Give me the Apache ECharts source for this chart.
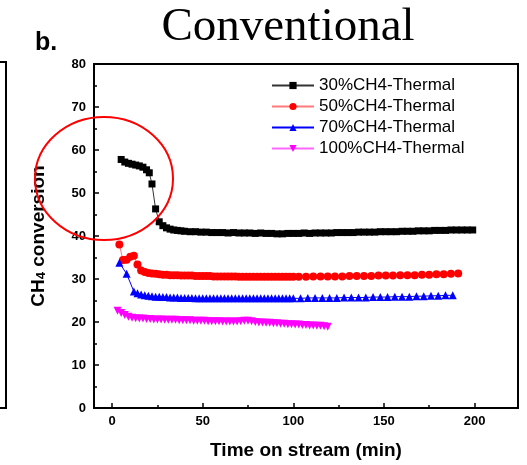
<!DOCTYPE html>
<html>
<head>
<meta charset="utf-8">
<script src="https://cdn.jsdelivr.net/npm/echarts@6/dist/echarts.min.js"></script>
<style>
html,body{margin:0;padding:0;background:#fff;}
#chart{width:527px;height:465px;}
</style>
</head>
<body>
<div id="chart"></div>
<script>
// ---- data ----
var seriesNames = ['30%CH4-Thermal', '50%CH4-Thermal', '70%CH4-Thermal', '100%CH4-Thermal'];

var ch4_30_x = [5,7,9,11,13,15,17,19,20.5,22,24,26,28,30,32,34,36,38,40,43,46,49,52,55,58,61,64,67,70,73,76,79,82,85,88,91,94,97,100,103,106,109,112,115,118,121,124,127,130,133,136,139,142,145,148,151,154,157,160,163,166,169,172,175,178,181,184,187,190,193,196,199];
var ch4_30_y = [57.8,57.2,56.9,56.7,56.5,56.3,56.0,55.4,54.7,52.1,46.3,43.3,42.4,41.9,41.6,41.4,41.3,41.2,41.1,41.0,41.0,40.9,40.9,40.8,40.8,40.8,40.7,40.8,40.7,40.7,40.7,40.6,40.7,40.6,40.6,40.5,40.5,40.6,40.6,40.6,40.7,40.6,40.7,40.7,40.7,40.7,40.8,40.8,40.8,40.8,40.9,40.9,40.9,40.9,41.0,41.0,41.0,41.0,41.1,41.1,41.1,41.2,41.2,41.2,41.3,41.3,41.3,41.4,41.4,41.4,41.4,41.4];

var ch4_50_x = [4,6,8,10,12,14,16,18,20,22,24,26,28,30,32,34,36,38,40,42,44,46,48,50,52,54,56,58,60,62,64,66,68,70,72,74,76,78,80,82,84,86,88,90,92,94,96,98,100,103,107,111,115,119,123,127,131,135,139,143,147,151,155,159,163,167,171,175,179,183,187,191];
var ch4_50_y = [38.0,34.4,34.5,35.2,35.4,33.4,32.0,31.6,31.4,31.3,31.2,31.1,31.0,31.0,30.9,30.9,30.9,30.8,30.8,30.8,30.8,30.7,30.7,30.7,30.7,30.7,30.6,30.6,30.6,30.6,30.6,30.6,30.6,30.5,30.5,30.5,30.5,30.5,30.5,30.5,30.5,30.5,30.5,30.5,30.5,30.5,30.5,30.5,30.5,30.5,30.5,30.6,30.6,30.6,30.6,30.6,30.7,30.7,30.7,30.7,30.8,30.8,30.8,30.9,30.9,30.9,31.0,31.0,31.1,31.1,31.2,31.3];

var ch4_70_x = [4,8,12,14,16,18,20,22,24,26,28,30,32,34,36,38,40,42,44,46,48,50,52,54,56,58,60,62,64,66,68,70,72,74,76,78,80,82,84,86,88,90,92,94,96,98,100,104,108,112,116,120,124,128,132,136,140,144,148,152,156,160,164,168,172,176,180,184,188];
var ch4_70_y = [33.8,31.2,27.1,26.7,26.4,26.2,26.1,26.0,25.9,25.9,25.8,25.8,25.7,25.7,25.7,25.6,25.6,25.6,25.6,25.5,25.5,25.5,25.5,25.5,25.5,25.5,25.5,25.5,25.5,25.5,25.5,25.5,25.5,25.5,25.5,25.5,25.5,25.5,25.5,25.5,25.5,25.5,25.5,25.5,25.5,25.5,25.5,25.5,25.6,25.6,25.6,25.6,25.6,25.7,25.7,25.7,25.7,25.8,25.8,25.8,25.9,25.9,25.9,26.0,26.0,26.1,26.1,26.2,26.2];

var ch4_100_x = [3,5,7,9,11,13,15,17,19,21,23,25,27,29,31,33,35,37,39,41,43,45,47,49,51,53,55,57,59,61,63,65,67,69,71,73,75,77,79,81,83,85,87,89,91,93,95,97,99,101,103,105,107,109,111,113,115,117,119];
var ch4_100_y = [22.6,22.1,21.6,21.2,21.0,20.9,20.8,20.8,20.7,20.7,20.6,20.6,20.6,20.5,20.5,20.5,20.5,20.4,20.4,20.4,20.4,20.3,20.3,20.3,20.3,20.2,20.2,20.2,20.2,20.1,20.1,20.1,20.1,20.1,20.2,20.3,20.3,20.2,20.0,19.9,19.9,19.8,19.8,19.7,19.7,19.6,19.6,19.5,19.5,19.4,19.4,19.3,19.3,19.2,19.2,19.1,19.1,19.0,18.9];

var xMajorTicks = [0, 50, 100, 150, 200];
var xMinorTicks = [25, 75, 125, 175];

// ---- chart ----
function pairs(xs, ys) {
  var out = [];
  for (var i = 0; i < xs.length; i++) out.push([xs[i], ys[i]]);
  return out;
}

var FONT = 'Liberation Sans, Arial, sans-serif';
var chart = echarts.init(document.getElementById('chart'), null, {renderer: 'canvas'});

var option = {
  animation: false,
  backgroundColor: '#fff',
  grid: {left: 94, right: 9, top: 64, bottom: 57, show: true, borderColor: '#000', borderWidth: 2, backgroundColor: 'transparent'},
  legend: {
    orient: 'vertical', left: 266, top: 72,
    itemWidth: 42, itemHeight: 9, itemGap: 4,
    textStyle: {fontSize: 17, fontFamily: FONT, color: '#000', lineHeight: 17},
    data: seriesNames
  },
  xAxis: [{
    type: 'value', min: -10, max: 224, position: 'bottom',
    axisLine: {show: false, onZero: false}, splitLine: {show: false},
    axisTick: {show: true, inside: true, length: 5, lineStyle: {color: '#000', width: 1.5}, customValues: xMajorTicks},
    axisLabel: {customValues: xMajorTicks, color: '#000', fontSize: 13, fontWeight: 'bold', fontFamily: FONT, margin: 7},
    name: 'Time on stream (min)', nameLocation: 'middle', nameGap: 33,
    nameTextStyle: {fontSize: 19, fontWeight: 'bold', fontFamily: FONT, color: '#000'}
  }, {
    type: 'value', min: -10, max: 224, position: 'bottom',
    axisLine: {show: false, onZero: false}, splitLine: {show: false},
    axisTick: {show: true, inside: true, length: 3, lineStyle: {color: '#000', width: 1.5}, customValues: xMinorTicks},
    axisLabel: {show: false}
  }],
  yAxis: {
    type: 'value', min: 0, max: 80, interval: 10, position: 'left',
    axisLine: {show: false, onZero: false}, splitLine: {show: false},
    axisTick: {show: true, inside: true, length: 5, lineStyle: {color: '#000', width: 1.5}},
    minorTick: {show: true, splitNumber: 2, length: 3, lineStyle: {color: '#000', width: 1.5}},
    minorSplitLine: {show: false},
    axisLabel: {color: '#000', fontSize: 13, fontWeight: 'bold', fontFamily: FONT, margin: 8},
    name: 'CH{s|4} conversion', nameLocation: 'middle', nameGap: 46,
    nameTextStyle: {
      fontSize: 19, fontWeight: 'bold', fontFamily: FONT, color: '#000', lineHeight: 19,
      rich: {s: {fontSize: 13, fontWeight: 'bold', fontFamily: FONT, color: '#000', verticalAlign: 'bottom', lineHeight: 13}}
    }
  },
  series: [{
    name: seriesNames[0], type: 'line', data: pairs(ch4_30_x, ch4_30_y),
    symbol: 'rect', symbolSize: 7,
    itemStyle: {color: '#000'}, lineStyle: {color: '#333', width: 1}
  }, {
    name: seriesNames[1], type: 'line', data: pairs(ch4_50_x, ch4_50_y),
    symbol: 'circle', symbolSize: 8,
    itemStyle: {color: '#ff0000'}, lineStyle: {color: '#ff7a7a', width: 1}
  }, {
    name: seriesNames[2], type: 'line', data: pairs(ch4_70_x, ch4_70_y),
    symbol: 'triangle', symbolSize: 8,
    itemStyle: {color: '#0000ff'}, lineStyle: {color: '#0000ff', width: 1}
  }, {
    name: seriesNames[3], type: 'line', data: pairs(ch4_100_x, ch4_100_y),
    symbol: 'triangle', symbolRotate: 180, symbolSize: 8,
    itemStyle: {color: '#ff00ff'}, lineStyle: {color: '#ff66ff', width: 1}
  }],
  graphic: [{
    type: 'text', x: 288, y: 28,
    style: {text: 'Conventional', fill: '#000', font: '47px "Liberation Serif", "Times New Roman", serif', align: 'center', verticalAlign: 'middle'}
  }, {
    type: 'text', x: 35, y: 43,
    style: {text: 'b.', fill: '#000', font: 'bold 25px ' + FONT, align: 'left', verticalAlign: 'middle'}
  }, {
    type: 'ellipse', shape: {cx: 104, cy: 178.5, rx: 69, ry: 61.5},
    style: {fill: 'none', stroke: '#ff0000', lineWidth: 2}, z: 100
  }, {
    type: 'polyline', shape: {points: [[0, 62], [6, 62], [6, 408], [0, 408]]},
    style: {fill: 'none', stroke: '#000', lineWidth: 2}
  }]
};
chart.setOption(option);
</script>
</body>
</html>
